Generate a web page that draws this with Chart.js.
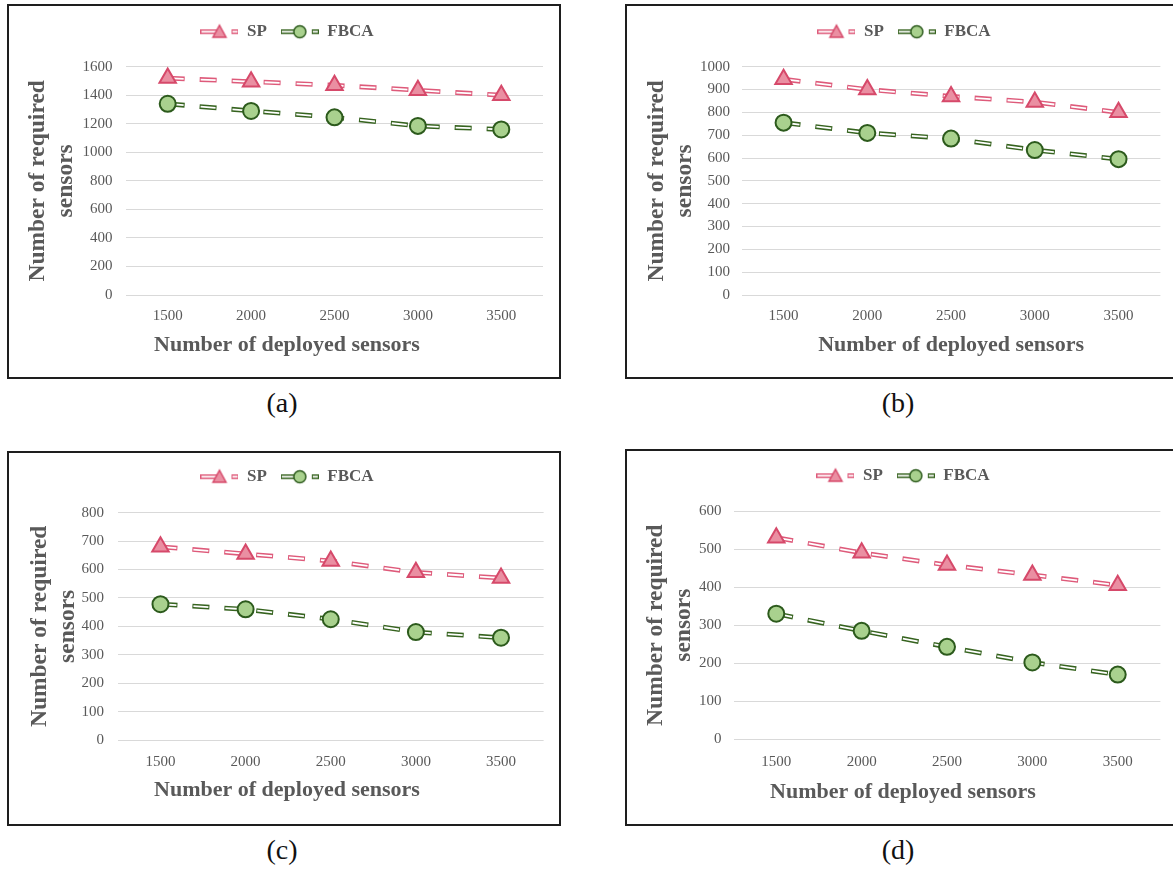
<!DOCTYPE html>
<html>
<head>
<meta charset="utf-8">
<title>Number of required sensors</title>
<script src="https://cdn.jsdelivr.net/npm/chart.js@4.4.1/dist/chart.umd.min.js"></script>
<style>
  html, body { margin: 0; padding: 0; background: #fff; overflow: hidden; }
  .panel { position: absolute; border: 2px solid #1e1e1e; background: #fff; }
  .panel canvas { display: block; }
  .caption { position: absolute; width: 80px; text-align: center; color: #111;
             font: 28px 'Liberation Serif', 'Times New Roman', serif; line-height: 32px; }
</style>
</head>
<body>
<div class="panel" style="left:7px;top:4px;"><canvas id="chartA" width="550" height="371"></canvas></div>
<div class="panel" style="left:625px;top:4px;"><canvas id="chartB" width="560" height="371"></canvas></div>
<div class="panel" style="left:7px;top:451px;"><canvas id="chartC" width="550" height="371"></canvas></div>
<div class="panel" style="left:625px;top:449px;"><canvas id="chartD" width="560" height="373"></canvas></div>

<div class="caption" style="left:242px;top:387px;">(a)</div>
<div class="caption" style="left:858px;top:387px;">(b)</div>
<div class="caption" style="left:242px;top:834px;">(c)</div>
<div class="caption" style="left:858px;top:834px;">(d)</div>

<script>
// deployed sensors (x categories)
const xLabels = ['1500', '2000', '2500', '3000', '3500'];

// required sensors
const spA   = [1520, 1495, 1470, 1435, 1400];
const fbcaA = [1340, 1290, 1245, 1185, 1160];
const spB   = [945, 900, 870, 845, 800];
const fbcaB = [755, 710, 685, 635, 595];
const spC   = [680, 655, 630, 590, 570];
const fbcaC = [478, 460, 425, 380, 360];
const spD   = [530, 490, 458, 432, 405];
const fbcaD = [330, 285, 243, 202, 170];

// y axis range per panel
const yMaxes = [1600, 1000, 800, 600];
const ySteps = [200, 100, 100, 100];

const X_TITLE = 'Number of deployed sensors';
const Y_TITLE = ['Number of required', 'sensors'];
const TEXT_GRAY = '#595959';

Chart.defaults.font.family = "'Liberation Serif', 'Times New Roman', serif";

const SP_STYLE = { name: 'SP', line: '#de5a7a', fill: '#ea8fa2', border: '#d6496a', marker: 'triangle', radius: 9.5 };
const FBCA_STYLE = { name: 'FBCA', line: '#36631f', fill: '#a9d18e', border: '#2c5a1c', marker: 'circle', radius: 8 };

// spacing of each panel so the plot sits where it does in the figure
const layouts = [
    { pad: { left: 22, right: 16, top: 3.2, bottom: 0 }, legendExtra: 16.5, yAxisW: 95, yTickPad: 13.5, yTitlePad: -7.6,
      xTickPad: 12, xAxisH: 34, xTitleOnPlot: false, xTitlePad: { top: 2.8, bottom: 18.8 } },
    { pad: { left: 20.6, right: 26.6, top: 3.2, bottom: 0 }, legendExtra: 16.5, yAxisW: 94.1, yTickPad: 11.7, yTitlePad: -4.7,
      xTickPad: 12, xAxisH: 82, xTitleOnPlot: true, xTitlePad: { top: 0, bottom: 18.8 } },
    { pad: { left: 21.4, right: 15.4, top: 1.2, bottom: 0 }, legendExtra: 17.5, yAxisW: 87.5, yTickPad: 13.9, yTitlePad: -4.5,
      xTickPad: 12.7, xAxisH: 34, xTitleOnPlot: false, xTitlePad: { top: 2.8, bottom: 20.8 } },
    { pad: { left: 18.6, right: 26.6, top: 2.2, bottom: 0 }, legendExtra: 16.8, yAxisW: 88, yTickPad: 12, yTitlePad: -3.7,
      xTickPad: 13.4, xAxisH: 34, xTitleOnPlot: false, xTitlePad: { top: 6.2, bottom: 18.1 } }
];

// legend sample like Excel's: line, marker, short dash
function legendIcon(s) {
    const c = document.createElement('canvas');
    c.width = 38;
    c.height = 17;
    const g = c.getContext('2d');
    const y = 8.5;
    [[0, 17], [31, 38]].forEach(([x0, x1]) => {
        g.lineWidth = 4.8;
        g.strokeStyle = s.line;
        g.beginPath(); g.moveTo(x0, y); g.lineTo(x1, y); g.stroke();
        g.lineWidth = 1.8;
        g.strokeStyle = '#ffffff';
        g.beginPath(); g.moveTo(x0 + 1, y); g.lineTo(x1 - 1, y); g.stroke();
    });
    g.fillStyle = s.fill;
    g.strokeStyle = s.border;
    g.lineWidth = 1.5;
    g.beginPath();
    if (s.marker === 'circle') {
        g.arc(19, y, 6, 0, Math.PI * 2);
    } else {
        g.moveTo(19, y - 6.5); g.lineTo(25.5, y + 5.5); g.lineTo(12.5, y + 5.5); g.closePath();
    }
    g.fill();
    g.stroke();
    return c;
}

// extra room between legend and plot
const legendGap = {
    id: 'legendGap',
    beforeInit(chart, args, options) {
        const fit = chart.legend.fit;
        chart.legend.fit = function () {
            fit.call(this);
            this.height += options.extra || 0;
        };
    }
};

function makeChart(canvasId, sp, fbca, yMax, yStep, L) {
    const series = [[SP_STYLE, sp], [FBCA_STYLE, fbca]];
    const icons = series.map(([s]) => legendIcon(s));
    const datasets = [];

    // markers on top, then the white core of the dash, then its coloured rim
    series.forEach(([s, data]) => datasets.push({
        label: s.name, data: data, showLine: false, clip: false,
        pointStyle: s.marker, pointRadius: s.radius,
        pointBackgroundColor: s.fill, pointBorderColor: s.border, pointBorderWidth: 2
    }));
    series.forEach(([s, data]) => datasets.push({
        label: s.name + ' core', data: data, borderColor: '#ffffff', borderWidth: 1.8,
        borderDash: [15, 17], borderDashOffset: -1, pointRadius: 0, tension: 0, fill: false
    }));
    series.forEach(([s, data]) => datasets.push({
        label: s.name + ' rim', data: data, borderColor: s.line, borderWidth: 4.8,
        borderDash: [17, 15], pointRadius: 0, tension: 0, fill: false
    }));

    const titleFont = { size: 22, weight: 'bold' };

    return new Chart(document.getElementById(canvasId), {
        type: 'line',
        data: { labels: xLabels, datasets: datasets },
        plugins: [legendGap],
        options: {
            responsive: false,
            animation: false,
            events: [],
            layout: { padding: L.pad },
            plugins: {
                legendGap: { extra: L.legendExtra },
                legend: {
                    position: 'top',
                    labels: {
                        usePointStyle: true,
                        pointStyleWidth: 38,
                        padding: 14,
                        color: TEXT_GRAY,
                        font: { size: 17, weight: 'bold' },
                        generateLabels: () => series.map(([s], i) => ({
                            text: s.name, pointStyle: icons[i], datasetIndex: i,
                            hidden: false, fontColor: TEXT_GRAY, lineWidth: 0
                        }))
                    }
                },
                title: {
                    display: !L.xTitleOnPlot,
                    position: 'bottom',
                    text: X_TITLE,
                    color: TEXT_GRAY,
                    font: titleFont,
                    padding: L.xTitlePad
                },
                tooltip: { enabled: false }
            },
            scales: {
                x: {
                    type: 'category',
                    offset: true,
                    grid: { display: false, drawTicks: false },
                    border: { display: false },
                    ticks: { color: TEXT_GRAY, font: { size: 15 }, padding: L.xTickPad, autoSkip: false, maxRotation: 0 },
                    title: {
                        display: L.xTitleOnPlot,
                        text: X_TITLE,
                        color: TEXT_GRAY,
                        font: titleFont,
                        padding: L.xTitlePad
                    },
                    afterFit: scale => { scale.height = L.xAxisH; }
                },
                y: {
                    min: 0,
                    max: yMax,
                    grid: { color: '#d9d9d9', lineWidth: 1, drawTicks: false },
                    border: { display: false },
                    ticks: {
                        stepSize: yStep, color: TEXT_GRAY, font: { size: 15 }, padding: L.yTickPad,
                        callback: value => String(value)
                    },
                    title: {
                        display: true,
                        text: Y_TITLE,
                        color: TEXT_GRAY,
                        font: { size: 23.5, weight: 'bold' },
                        padding: { top: L.yTitlePad, bottom: 0 }
                    },
                    afterFit: scale => { scale.width = L.yAxisW; }
                }
            }
        }
    });
}

makeChart('chartA', spA, fbcaA, yMaxes[0], ySteps[0], layouts[0]);
makeChart('chartB', spB, fbcaB, yMaxes[1], ySteps[1], layouts[1]);
makeChart('chartC', spC, fbcaC, yMaxes[2], ySteps[2], layouts[2]);
makeChart('chartD', spD, fbcaD, yMaxes[3], ySteps[3], layouts[3]);
</script>
</body>
</html>
